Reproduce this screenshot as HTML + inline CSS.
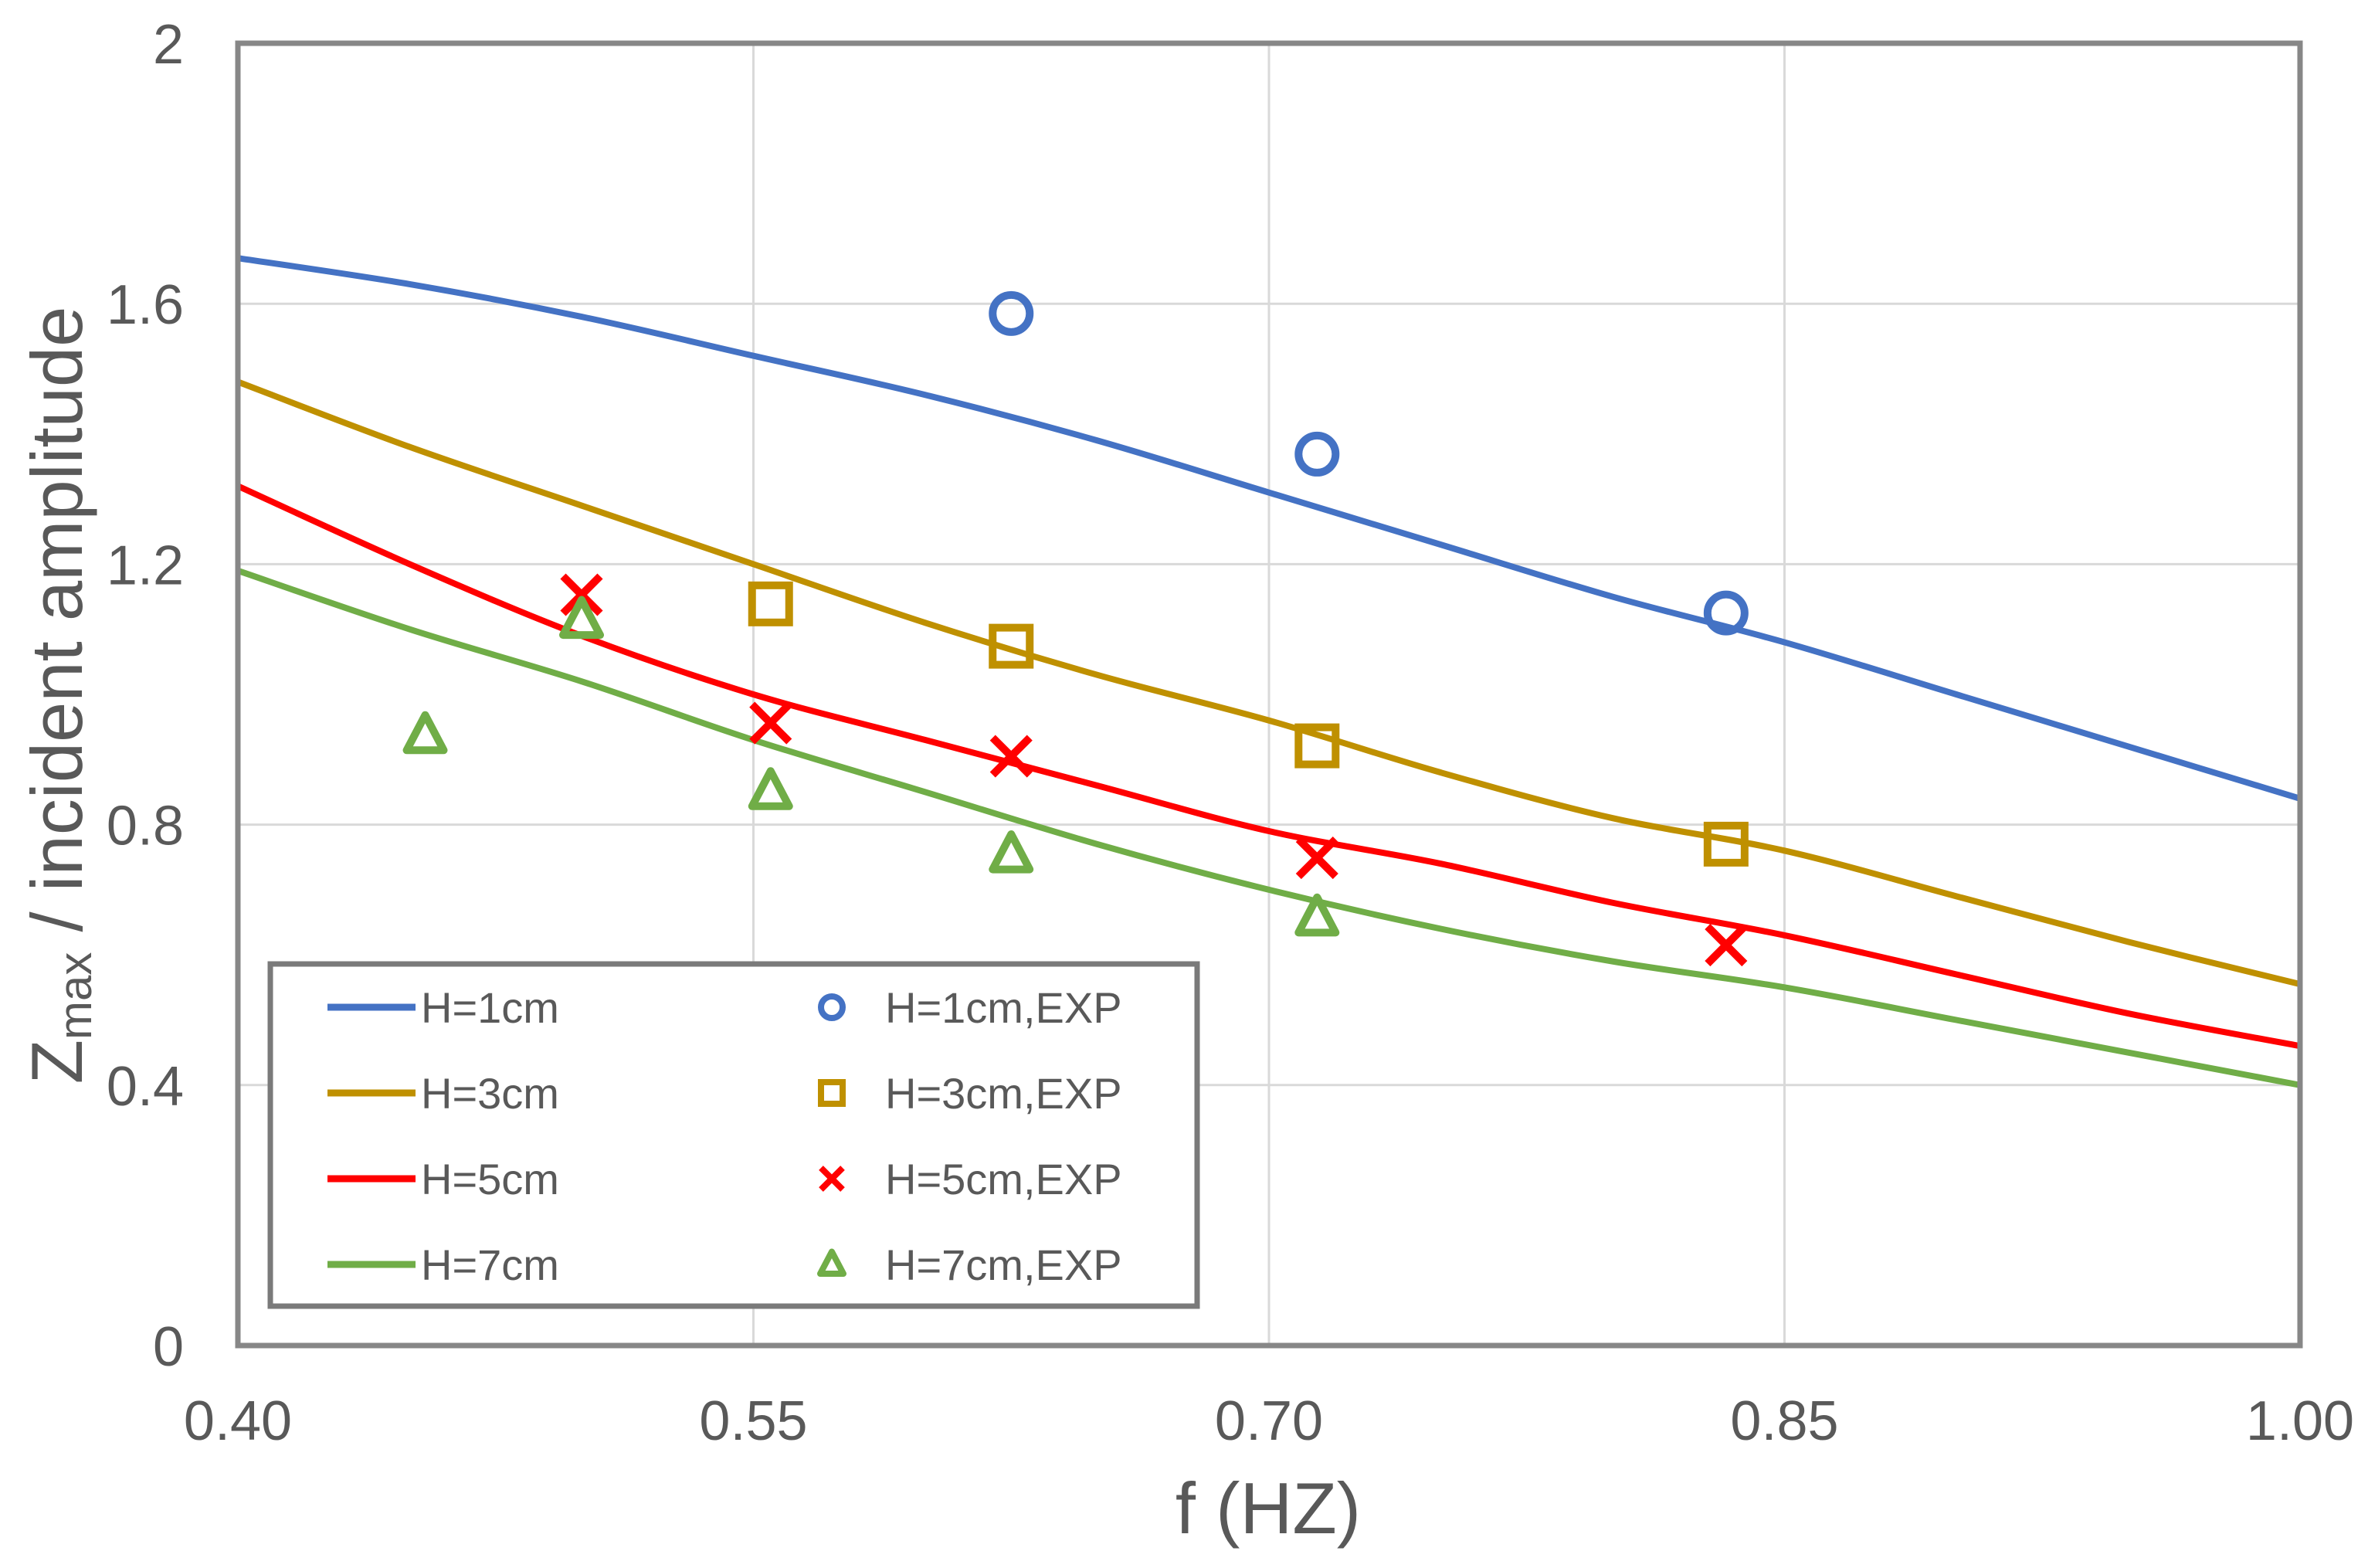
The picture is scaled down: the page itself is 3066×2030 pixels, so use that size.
<!DOCTYPE html>
<html><head><meta charset="utf-8"><style>
html,body{margin:0;padding:0;background:#fff;}
svg{display:block;font-family:"Liberation Sans",sans-serif;}
</style></head><body>
<svg id="chart" width="3066" height="2030" viewBox="0 0 3066 2030" xmlns="http://www.w3.org/2000/svg">
<g id="grid"></g>
<g id="lines"></g>
<g id="marks"></g>
<rect x="308" y="56" width="2670" height="1686" fill="none" stroke="#878787" stroke-width="7"/>
<g id="ticks" fill="#595959" font-size="72"></g>
<text x="1642" y="1985" text-anchor="middle" font-size="94" fill="#595959">f (HZ)</text>
<text transform="translate(106,900) rotate(-90)" text-anchor="middle" font-size="94" fill="#595959">Z<tspan font-size="60" dy="12">max</tspan><tspan dy="-12"> / incident amplitude</tspan></text>
<g id="legend">
<rect x="350" y="1248" width="1200" height="443" fill="#fff" stroke="#7a7a7a" stroke-width="7"/>
</g>
</svg>
<script>
const xs = [0.40,0.45,0.50,0.55,0.60,0.65,0.70,0.75,0.80,0.85,0.90,0.95,1.00];
const h1 = [1.67,1.63,1.58,1.52,1.46,1.39,1.31,1.23,1.15,1.08,1.00,0.92,0.84];
const h3 = [1.48,1.38,1.29,1.20,1.11,1.03,0.96,0.88,0.81,0.76,0.69,0.62,0.555];
const h5 = [1.32,1.20,1.09,1.00,0.93,0.86,0.79,0.74,0.68,0.63,0.57,0.51,0.46];
const h7 = [1.19,1.10,1.02,0.93,0.85,0.77,0.70,0.64,0.59,0.55,0.50,0.45,0.40];
const e1x = [0.625,0.714,0.833];
const e1y = [1.585,1.369,1.125];
const e3x = [0.555,0.625,0.714,0.833];
const e3y = [1.139,1.074,0.921,0.770];
const e5x = [0.50,0.555,0.625,0.714,0.833];
const e5y = [1.153,0.956,0.905,0.749,0.615];
const e7x = [0.4545,0.50,0.555,0.625,0.714];
const e7y = [0.937,1.114,0.851,0.754,0.657];
const xTicks = ["0.40","0.55","0.70","0.85","1.00"];
const yTicks = ["0","0.4","0.8","1.2","1.6","2"];

const NS="http://www.w3.org/2000/svg";
const X0=308,X1=2978,Y0=1742,Y1=56;
function sx(v){return X0+(v-0.4)/0.6*(X1-X0);}
function sy(v){return Y0-v/2*(Y0-Y1);}
function mk(tag,parent){const e=document.createElementNS(NS,tag);document.getElementById(parent).appendChild(e);return e;}

xTicks.forEach((t,i)=>{
  const v=parseFloat(t);
  if(i>0&&i<xTicks.length-1){const l=mk('line','grid');
    
    
    l.setAttribute('x1',sx(v));l.setAttribute('x2',sx(v));l.setAttribute('y1',Y1);l.setAttribute('y2',Y0);l.setAttribute('stroke','#d9d9d9');l.setAttribute('stroke-width','3');}
  const tx=mk('text','ticks');
  
  
  tx.setAttribute('x',sx(v));tx.setAttribute('y',1864);tx.setAttribute('text-anchor','middle');tx.textContent=t;
});
yTicks.forEach((t,i)=>{
  const v=parseFloat(t);
  if(i>0&&i<yTicks.length-1){const l=mk('line','grid');
    
    
    l.setAttribute('x1',X0);l.setAttribute('x2',X1);l.setAttribute('y1',sy(v));l.setAttribute('y2',sy(v));l.setAttribute('stroke','#d9d9d9');l.setAttribute('stroke-width','3');}
  const tx=mk('text','ticks');
  
  
  tx.setAttribute('x',238);tx.setAttribute('y',sy(v)+26);tx.setAttribute('text-anchor','end');tx.textContent=t;
});

function smoothPath(px,py){
  const p=px.map((x,i)=>[sx(x),sy(py[i])]);
  let d='M'+p[0][0]+','+p[0][1];
  for(let i=0;i<p.length-1;i++){
    const a=p[Math.max(i-1,0)],b=p[i],c=p[i+1],e=p[Math.min(i+2,p.length-1)];
    d+=' C'+(b[0]+(c[0]-a[0])/6)+','+(b[1]+(c[1]-a[1])/6)+' '+(c[0]-(e[0]-b[0])/6)+','+(c[1]-(e[1]-b[1])/6)+' '+c[0]+','+c[1];
  }
  return d;
}
const series=[
 {n:'h1',y:h1,c:'#4472c4',ex:e1x,ey:e1y,m:'circle',lab:'H=1cm'},
 {n:'h3',y:h3,c:'#bf9000',ex:e3x,ey:e3y,m:'square',lab:'H=3cm'},
 {n:'h5',y:h5,c:'#ff0000',ex:e5x,ey:e5y,m:'cross',lab:'H=5cm'},
 {n:'h7',y:h7,c:'#70ad47',ex:e7x,ey:e7y,m:'triangle',lab:'H=7cm'}];
function marker(parent,m,x,y,r,c,sw){
  let e;
  if(m==='circle'){e=mk('circle',parent);e.setAttribute('cx',x);e.setAttribute('cy',y);e.setAttribute('r',r);}
  else if(m==='square'){e=mk('rect',parent);e.setAttribute('x',x-r);e.setAttribute('y',y-r);e.setAttribute('width',2*r);e.setAttribute('height',2*r);}
  else if(m==='cross'){e=mk('path',parent);e.setAttribute('d',`M${x-r},${y-r}L${x+r},${y+r}M${x+r},${y-r}L${x-r},${y+r}`);}
  else {e=mk('path',parent);e.setAttribute('d',`M${x},${y-r*1.1}L${x+r},${y+r*0.8}L${x-r},${y+r*0.8}Z`);e.setAttribute('stroke-linejoin','round');}
  e.setAttribute('fill','none');e.setAttribute('stroke',c);e.setAttribute('stroke-width',sw);
  return e;
}
series.forEach((s,k)=>{
  const p=mk('path','lines');
  
  
  p.setAttribute('d',smoothPath(xs,s.y));p.setAttribute('fill','none');p.setAttribute('stroke',s.c);p.setAttribute('stroke-width','8');
  s.ex.forEach((x,i)=>{
    const e=marker('marks',s.m,sx(x),sy(s.ey[i]),24,s.c,10);
    
    
  });
  const ly=1304+k*111;
  const ll=mk('line','legend');
  
  
  ll.setAttribute('x1',424);ll.setAttribute('x2',538);ll.setAttribute('y1',ly);ll.setAttribute('y2',ly);ll.setAttribute('stroke',s.c);ll.setAttribute('stroke-width','9');
  const t1=mk('text','legend');
  
  
  t1.setAttribute('x',545);t1.setAttribute('y',ly+20);t1.setAttribute('font-size','56');t1.setAttribute('fill','#595959');t1.textContent=s.lab;
  const lm=marker('legend',s.m,1077,ly,s.m==='triangle'?15:14,s.c,8);
  
  
  const t2=mk('text','legend');
  
  
  t2.setAttribute('x',1146);t2.setAttribute('y',ly+20);t2.setAttribute('font-size','56');t2.setAttribute('fill','#595959');t2.textContent=s.lab+',EXP';
});
</script>
</body></html>
